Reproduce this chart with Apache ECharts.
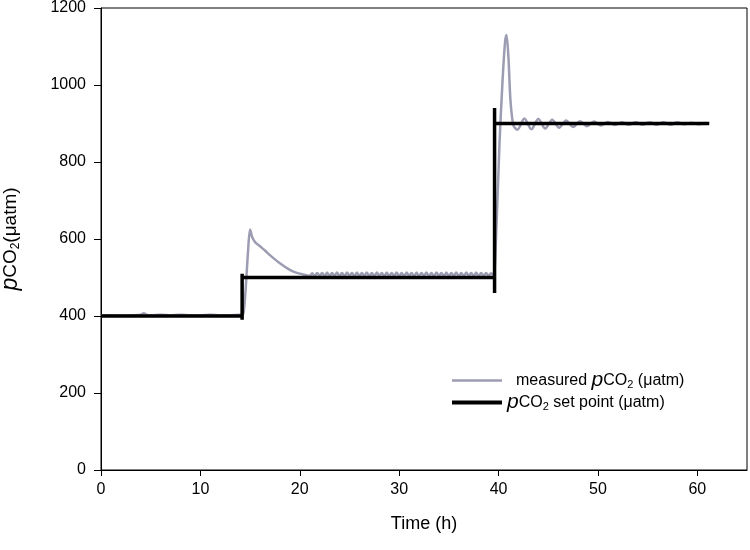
<!DOCTYPE html>
<html>
<head>
<meta charset="utf-8">
<script src="https://cdn.jsdelivr.net/npm/echarts@6/dist/echarts.min.js"></script>
<style>html,body{margin:0;padding:0;background:#fff}#c{width:750px;height:550px}</style>
</head>
<body>
<div id="c"></div>
<script>
// Tick labels
var xTicks = [0, 10, 20, 30, 40, 50, 60];
var yTicks = [0, 200, 400, 600, 800, 1000, 1200];

// Set point series (time h, pCO2 µatm)
var setTime  = [0, 14.2, 14.2, 14.2, 14.2, 39.6, 39.6, 39.6, 39.6, 61.2];
var setValue = [400, 400, 390, 510, 500, 500, 460, 940, 900, 900];

// Measured series, phase 1 (400 µatm)
var measuredPhase1 = [
  [0,401],[1,402],[2,401],[3,402],[4,403],[4.3,407],[4.6,403],[5,402],[6,403],[7,402],
  [8,403],[9,402],[10,402],[11,403],[12,402],[13,402],[14,403],[14.3,405]
];
// Measured series, phase 2 (500 µatm)
var measuredPhase2 = [
  [14.5,450],[14.8,570],[15.0,625],[15.2,606],[15.5,592],[16,581],[16.5,570],[17,558],
  [17.5,547],[18,537],[18.5,528],[19,520],[19.5,514],[20,510],[20.5,507],
  [21,504],[21.25,511],[21.5,503],[21.75,512],[22,504],[22.25,512],[22.5,503],[22.75,513],
  [23,503],[23.25,512],[23.5,504],[23.75,513],[24,503],[24.25,512],[24.5,503],[24.75,513],
  [25,504],[25.25,512],[25.5,503],[25.75,513],[26,503],[26.25,512],[26.5,504],[26.75,513],
  [27,503],[27.25,512],[27.5,503],[27.75,513],[28,504],[28.25,512],[28.5,503],[28.75,513],
  [29,503],[29.25,512],[29.5,504],[29.75,513],[30,503],[30.25,512],[30.5,503],[30.75,513],
  [31,504],[31.25,512],[31.5,503],[31.75,513],[32,503],[32.25,512],[32.5,504],[32.75,513],
  [33,503],[33.25,512],[33.5,503],[33.75,513],[34,504],[34.25,512],[34.5,503],[34.75,513],
  [35,503],[35.25,512],[35.5,504],[35.75,513],[36,503],[36.25,512],[36.5,503],[36.75,513],
  [37,504],[37.25,512],[37.5,503],[37.75,513],[38,503],[38.25,512],[38.5,504],[38.75,512],
  [39,504],[39.25,511],[39.5,506]
];
// Measured series, phase 3 (900 µatm)
var measuredPhase3 = [
  [39.8,640],[40.1,850],[40.4,1010],[40.65,1110],[40.8,1130],[41.0,1070],[41.2,960],
  [41.5,895],[41.9,884],[42.6,913],[43.3,885],[44.0,912],[44.7,887],[45.4,910],[46.1,889],
  [46.8,908],[47.5,891],[48.2,906],[48.9,893],[49.6,905],[50.3,895],[51.0,904],[51.7,896],
  [52.4,903],[53.1,897],[53.8,903],[54.5,897],[55.2,903],[55.9,897],[56.6,903],[57.3,897],
  [58.0,903],[58.7,898],[59.4,902],[60.1,898],[60.8,901],[61.2,900]
];

var measuredData = measuredPhase1.concat(measuredPhase2, measuredPhase3);
var setData = setTime.map(function (t, i) { return [t, setValue[i]]; });

var FONT = '"Liberation Sans", Arial, sans-serif';
var chart = echarts.init(document.getElementById('c'), null, {renderer: 'canvas'});
chart.setOption({
  animation: false,
  backgroundColor: '#fff',
  textStyle: {fontFamily: FONT},
  grid: {left: 101, right: 3, top: 8, bottom: 80, show: true, borderColor: '#000', borderWidth: 1,
    containLabel: false, outerBoundsMode: 'none'},
  xAxis: {
    type: 'value', min: 0, max: 65, interval: 10,
    name: 'Time (h)', nameLocation: 'middle', nameGap: 45,
    nameTextStyle: {fontFamily: FONT, fontSize: 18, color: '#000'},
    axisLine: {show: true, lineStyle: {color: '#000', width: 1}},
    axisTick: {show: true, inside: false, length: 6, lineStyle: {color: '#000'}},
    axisLabel: {color: '#000', fontSize: 16, fontFamily: FONT, margin: 12, showMaxLabel: false,
      formatter: function (v) { return xTicks.indexOf(v) >= 0 ? String(v) : ''; }},
    splitLine: {show: false}
  },
  yAxis: {
    type: 'value', min: 0, max: 1200, interval: 200,
    name: '{p|p}{t|CO}{s|2}{t|(μatm)}', nameLocation: 'middle', nameGap: 78, nameRotate: 90,
    nameTextStyle: {
      rich: {
        p: {fontFamily: FONT, fontSize: 23, fontStyle: 'italic', color: '#000', lineHeight: 24},
        t: {fontFamily: FONT, fontSize: 19, color: '#000', lineHeight: 24},
        s: {fontFamily: FONT, fontSize: 12, color: '#000', lineHeight: 24, padding: [10, 0, 0, 0]}
      }
    },
    axisLine: {show: true, lineStyle: {color: '#000', width: 1}},
    axisTick: {show: true, inside: false, length: 7, lineStyle: {color: '#000'}},
    axisLabel: {color: '#000', fontSize: 16, fontFamily: FONT, margin: 15,
      formatter: function (v) { return yTicks.indexOf(v) >= 0 ? String(v) : ''; }},
    splitLine: {show: false}
  },
  legend: {
    orient: 'vertical', left: 447, top: 365, itemWidth: 50, itemHeight: 14, itemGap: 1,
    data: [
      {name: 'measured', icon: 'path://M0 0H50V2.5H0Z', itemStyle: {color: '#9c9cb2'}},
      {name: 'setpoint', icon: 'path://M0 0H50V4H0Z', itemStyle: {color: '#000'}}
    ],
    formatter: function (n) {
      return n === 'measured'
        ? '{f|measured }{p|p}{t|CO}{s|2}{t| (μatm)}'
        : '{p|p}{t|CO}{s|2}{t| set point (μatm)}';
    },
    textStyle: {
      rich: {
        f: {fontFamily: FONT, fontSize: 16, color: '#000', lineHeight: 22, padding: [0, 0, 0, 9]},
        p: {fontFamily: FONT, fontSize: 21, fontStyle: 'italic', color: '#000', lineHeight: 22},
        t: {fontFamily: FONT, fontSize: 16, color: '#000', lineHeight: 22},
        s: {fontFamily: FONT, fontSize: 11, color: '#000', lineHeight: 22, padding: [9, 0, 0, 0]}
      }
    }
  },
  series: [
    {
      name: 'measured', type: 'line', data: measuredData, showSymbol: false, symbol: 'none',
      smooth: 0.3, lineStyle: {color: '#9c9cb2', width: 2.5}, itemStyle: {color: '#9c9cb2'}, z: 2
    },
    {
      name: 'setpoint', type: 'line', data: setData, showSymbol: false, symbol: 'none',
      lineStyle: {color: '#000', width: 3.5}, itemStyle: {color: '#000'}, z: 3
    }
  ]
});
</script>
</body>
</html>
